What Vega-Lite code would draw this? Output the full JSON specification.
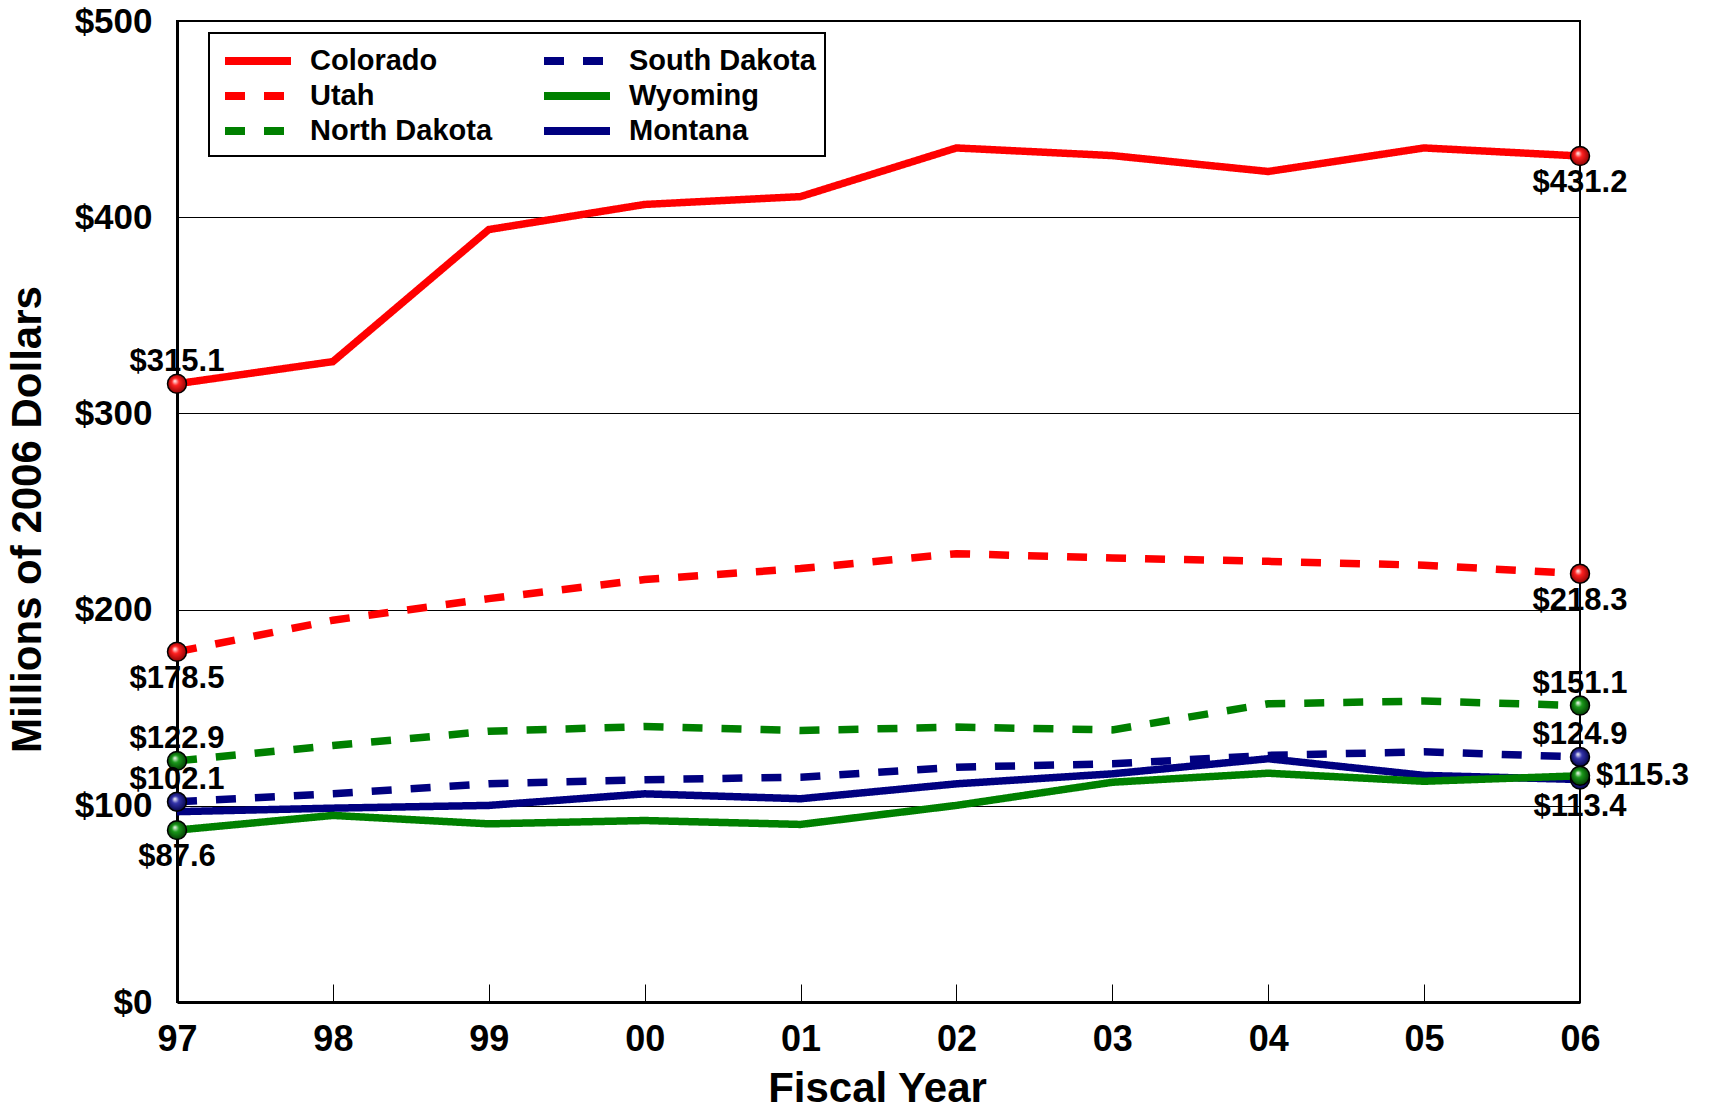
{
  "$schema": "https://vega.github.io/schema/vega-lite/v6.json",
  "width": 1403,
  "height": 981,
  "autosize": {"type": "none"},
  "padding": {"left": 177, "top": 21, "right": 129, "bottom": 115},
  "background": "white",
  "config": {
    "view": {"stroke": "black", "strokeWidth": 2},
    "font": "Liberation Sans",
    "legend": {"strokeWidth": 2}
  },
  "data": {
    "values": [
      {"state": "Montana", "year": "97", "value": 97.0},
      {"state": "Montana", "year": "98", "value": 98.8},
      {"state": "Montana", "year": "99", "value": 100.2},
      {"state": "Montana", "year": "00", "value": 106.1},
      {"state": "Montana", "year": "01", "value": 103.6},
      {"state": "Montana", "year": "02", "value": 111.2},
      {"state": "Montana", "year": "03", "value": 116.3},
      {"state": "Montana", "year": "04", "value": 124.0},
      {"state": "Montana", "year": "05", "value": 115.5},
      {"state": "Montana", "year": "06", "value": 113.4},
      {"state": "Wyoming", "year": "97", "value": 87.6},
      {"state": "Wyoming", "year": "98", "value": 95.1},
      {"state": "Wyoming", "year": "99", "value": 90.8},
      {"state": "Wyoming", "year": "00", "value": 92.5},
      {"state": "Wyoming", "year": "01", "value": 90.5},
      {"state": "Wyoming", "year": "02", "value": 100.2},
      {"state": "Wyoming", "year": "03", "value": 112.0},
      {"state": "Wyoming", "year": "04", "value": 116.6},
      {"state": "Wyoming", "year": "05", "value": 112.5},
      {"state": "Wyoming", "year": "06", "value": 115.3},
      {"state": "South Dakota", "year": "97", "value": 102.1},
      {"state": "South Dakota", "year": "98", "value": 106.1},
      {"state": "South Dakota", "year": "99", "value": 111.2},
      {"state": "South Dakota", "year": "00", "value": 113.3},
      {"state": "South Dakota", "year": "01", "value": 114.6},
      {"state": "South Dakota", "year": "02", "value": 119.7},
      {"state": "South Dakota", "year": "03", "value": 121.4},
      {"state": "South Dakota", "year": "04", "value": 125.7},
      {"state": "South Dakota", "year": "05", "value": 127.5},
      {"state": "South Dakota", "year": "06", "value": 124.9},
      {"state": "North Dakota", "year": "97", "value": 122.9},
      {"state": "North Dakota", "year": "98", "value": 130.7},
      {"state": "North Dakota", "year": "99", "value": 138.0},
      {"state": "North Dakota", "year": "00", "value": 140.4},
      {"state": "North Dakota", "year": "01", "value": 138.4},
      {"state": "North Dakota", "year": "02", "value": 140.1},
      {"state": "North Dakota", "year": "03", "value": 138.7},
      {"state": "North Dakota", "year": "04", "value": 152.0},
      {"state": "North Dakota", "year": "05", "value": 153.4},
      {"state": "North Dakota", "year": "06", "value": 151.1},
      {"state": "Utah", "year": "97", "value": 178.5},
      {"state": "Utah", "year": "98", "value": 194.6},
      {"state": "Utah", "year": "99", "value": 205.6},
      {"state": "Utah", "year": "00", "value": 215.3},
      {"state": "Utah", "year": "01", "value": 220.9},
      {"state": "Utah", "year": "02", "value": 228.5},
      {"state": "Utah", "year": "03", "value": 226.3},
      {"state": "Utah", "year": "04", "value": 224.6},
      {"state": "Utah", "year": "05", "value": 222.6},
      {"state": "Utah", "year": "06", "value": 218.3},
      {"state": "Colorado", "year": "97", "value": 315.1},
      {"state": "Colorado", "year": "98", "value": 326.4},
      {"state": "Colorado", "year": "99", "value": 393.7},
      {"state": "Colorado", "year": "00", "value": 406.5},
      {"state": "Colorado", "year": "01", "value": 410.5},
      {"state": "Colorado", "year": "02", "value": 435.3},
      {"state": "Colorado", "year": "03", "value": 431.4},
      {"state": "Colorado", "year": "04", "value": 423.3},
      {"state": "Colorado", "year": "05", "value": 435.3},
      {"state": "Colorado", "year": "06", "value": 431.2}
    ]
  },
  "encoding": {
    "x": {
      "field": "year",
      "type": "ordinal",
      "scale": {"type": "point", "padding": 0, "domain": ["97","98","99","00","01","02","03","04","05","06"]},
      "axis": {
        "title": "Fiscal Year",
        "titleFontSize": 42,
        "titleFontWeight": "bold",
        "titleColor": "black",
        "titleX": 700,
        "titleY": 86,
        "titleBaseline": "middle",
        "labelFontSize": 36,
        "labelFontWeight": "bold",
        "labelColor": "black",
        "labelAngle": 0,
        "labelPadding": 38,
        "tickSize": -18,
        "tickColor": "black",
        "tickWidth": 1,
        "domainColor": "black",
        "domainWidth": 3,
        "grid": false
      }
    },
    "y": {
      "field": "value",
      "type": "quantitative",
      "scale": {"domain": [0, 500], "nice": false},
      "axis": {
        "title": "Millions of 2006 Dollars",
        "titleFontSize": 42,
        "titleFontWeight": "bold",
        "titleColor": "black",
        "titleX": -150,
        "titleY": 498,
        "titleBaseline": "middle",
        "titleAlign": "center",
        "values": [0, 100, 200, 300, 400, 500],
        "format": "$.0f",
        "labelFontSize": 35,
        "labelFontWeight": "bold",
        "labelColor": "black",
        "labelPadding": 25,
        "ticks": false,
        "domainColor": "black",
        "domainWidth": 3,
        "grid": true,
        "gridColor": "black",
        "gridWidth": 1
      }
    }
  },
  "layer": [
    {
      "mark": {"type": "line", "strokeWidth": 7.5, "strokeCap": "butt", "strokeJoin": "miter"},
      "encoding": {
        "color": {
          "field": "state",
          "type": "nominal",
          "scale": {
            "domain": ["Colorado", "Utah", "North Dakota", "South Dakota", "Wyoming", "Montana"],
            "range": ["#FF0000", "#FF0000", "#008000", "#000080", "#008000", "#000080"]
          },
          "legend": {
            "title": null,
            "orient": "none",
            "legendX": 32,
            "legendY": 12,
            "columns": 2,
            "columnPadding": 35,
            "rowPadding": 0,
            "padding": 9,
            "symbolOffset": 21,
            "strokeColor": "black",
            "fillColor": "white",
            "symbolType": "M-2.2,0H2.2",
            "symbolSize": 900,
            "symbolStrokeWidth": 8,
            "labelFontSize": 29,
            "labelFontWeight": "bold",
            "labelColor": "black",
            "labelOffset": 33,
            "labelLimit": 400
          }
        },
        "strokeDash": {
          "field": "state",
          "type": "nominal",
          "scale": {
            "domain": ["Colorado", "Utah", "North Dakota", "South Dakota", "Wyoming", "Montana"],
            "range": [[1, 0], [20, 19], [20, 19], [20, 19], [1, 0], [1, 0]]
          },
          "legend": {
            "title": null,
            "orient": "none",
            "legendX": 32,
            "legendY": 12,
            "columns": 2,
            "columnPadding": 35,
            "rowPadding": 0,
            "padding": 9,
            "symbolOffset": 21,
            "strokeColor": "black",
            "fillColor": "white",
            "symbolType": "M-2.2,0H2.2",
            "symbolSize": 900,
            "symbolStrokeWidth": 8,
            "labelFontSize": 29,
            "labelFontWeight": "bold",
            "labelColor": "black",
            "labelOffset": 33,
            "labelLimit": 400
          }
        }
      }
    },
    {
      "transform": [
        {"filter": "(datum.year == '97' && datum.state != 'Montana') || datum.year == '06'"},
        {"filter": "datum.state == 'South Dakota' || datum.state == 'Montana'"}
      ],
      "mark": {
        "type": "circle", "size": 360, "opacity": 1, "stroke": "black", "strokeWidth": 1.5,
        "fill": {"gradient": "radial", "x1": 0.38, "y1": 0.35, "r1": 0, "x2": 0.5, "y2": 0.5, "r2": 0.55,
          "stops": [{"offset": 0, "color": "#ffffff"}, {"offset": 0.35, "color": "#3333aa"}, {"offset": 1, "color": "#000040"}]}
      }
    },
    {
      "transform": [
        {"filter": "(datum.year == '97' && datum.state != 'Montana') || datum.year == '06'"},
        {"filter": "datum.state == 'North Dakota' || datum.state == 'Wyoming'"}
      ],
      "mark": {
        "type": "circle", "size": 360, "opacity": 1, "stroke": "black", "strokeWidth": 1.5,
        "fill": {"gradient": "radial", "x1": 0.38, "y1": 0.35, "r1": 0, "x2": 0.5, "y2": 0.5, "r2": 0.55,
          "stops": [{"offset": 0, "color": "#ffffff"}, {"offset": 0.35, "color": "#1a991a"}, {"offset": 1, "color": "#003300"}]}
      }
    },
    {
      "transform": [
        {"filter": "(datum.year == '97' && datum.state != 'Montana') || datum.year == '06'"},
        {"filter": "datum.state == 'Colorado' || datum.state == 'Utah'"}
      ],
      "mark": {
        "type": "circle", "size": 360, "opacity": 1, "stroke": "black", "strokeWidth": 1.5,
        "fill": {"gradient": "radial", "x1": 0.38, "y1": 0.35, "r1": 0, "x2": 0.5, "y2": 0.5, "r2": 0.55,
          "stops": [{"offset": 0, "color": "#ffffff"}, {"offset": 0.35, "color": "#ff2020"}, {"offset": 1, "color": "#800000"}]}
      }
    },
    {
      "transform": [
        {"filter": "(datum.year == '97' && indexof(['Colorado','North Dakota','South Dakota'], datum.state) >= 0) || (datum.year == '06' && indexof(['North Dakota','South Dakota'], datum.state) >= 0)"}
      ],
      "mark": {"type": "text", "fontSize": 31, "fontWeight": "bold", "color": "black", "align": "center", "baseline": "alphabetic", "dy": -13},
      "encoding": {"text": {"field": "value", "type": "quantitative", "format": "$.1f"}}
    },
    {
      "transform": [
        {"filter": "(datum.year == '97' && indexof(['Utah','Wyoming'], datum.state) >= 0) || (datum.year == '06' && indexof(['Colorado','Utah','Montana'], datum.state) >= 0)"}
      ],
      "mark": {"type": "text", "fontSize": 31, "fontWeight": "bold", "color": "black", "align": "center", "baseline": "top", "dy": 12},
      "encoding": {"text": {"field": "value", "type": "quantitative", "format": "$.1f"}}
    },
    {
      "transform": [
        {"filter": "datum.year == '06' && datum.state == 'Wyoming'"}
      ],
      "mark": {"type": "text", "fontSize": 31, "fontWeight": "bold", "color": "black", "align": "left", "baseline": "middle", "dx": 16},
      "encoding": {"text": {"field": "value", "type": "quantitative", "format": "$.1f"}}
    }
  ]
}
